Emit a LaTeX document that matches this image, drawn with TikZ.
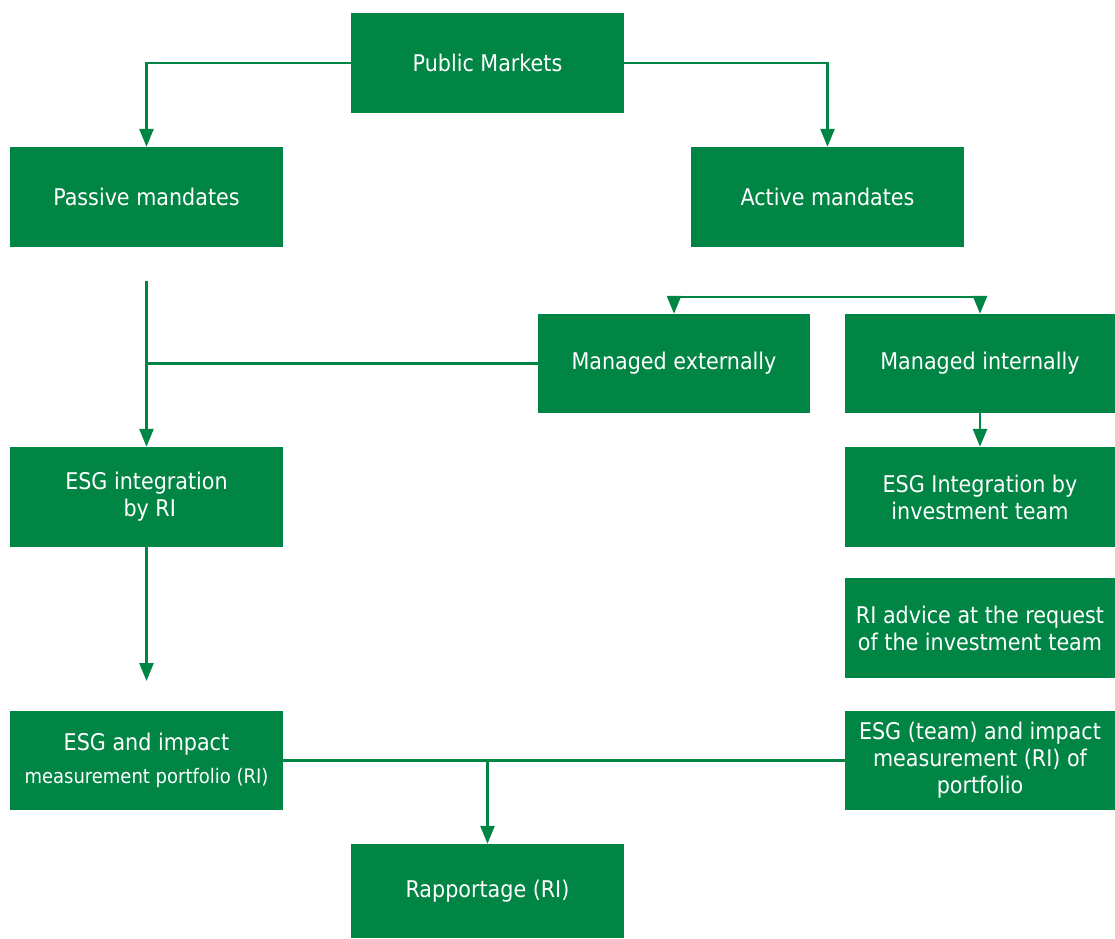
\documentclass[tikz,border=0pt]{standalone}
\usepackage{fontspec}
\setmainfont{DejaVu Sans Condensed}
\usetikzlibrary{arrows.meta}
\definecolor{bgreen}{RGB}{0,133,69}
\tikzset{
  box/.style={fill=bgreen, draw=none, text=white, align=center, inner sep=0pt,
    minimum width=273pt, minimum height=100pt, font=\fontsize{23}{27}\selectfont},
  conn/.style={draw=bgreen, line width=2.6pt},
  arr/.style={conn, -{Triangle[width=14pt,length=18pt]}}
}
\begin{document}
\begin{tikzpicture}[x=1pt,y=-1pt]
\useasboundingbox (0,0) rectangle (1115,938);
\node[box] (pm) at (487.5,63) {Public Markets};
\node[box] (pass) at (146.5,197) {Passive mandates};
\node[box] (act) at (827.5,197) {Active mandates};
\node[box, minimum width=272pt, minimum height=99pt] (ext) at (674,363.5) {Managed externally};
\node[box, minimum width=270pt, minimum height=99pt] (int) at (980,363.5) {Managed internally};
\node[box] (esgri) at (146.5,497) {ESG integration\\ \ by RI};
\node[box, minimum width=270pt] (esgteam) at (980,497) {ESG Integration by\\investment team};
\node[box, minimum width=270pt] (advice) at (980,628) {RI advice at the request\\of the investment team};
\node[box, minimum height=99pt] (meas) at (146.5,760.5) {ESG and impact\\[6pt]{\fontsize{20}{24}\selectfont measurement portfolio (RI)}};
\node[box, minimum width=270pt, minimum height=99pt] (meas2) at (980,760.5) {ESG (team) and impact\\measurement (RI) of\\portfolio};
\node[box, minimum height=94pt] (rap) at (487.5,891) {Rapportage (RI)};

\coordinate (split) at (827,297);
\coordinate (passdown) at (146.5,281);
\coordinate (esgend) at (146.5,681);
\coordinate (rapjoin) at (487.5,760.5);

\draw[arr] (pm.west) -| (pass.north);
\draw[arr] (pm.east) -| (act.north);
\draw[arr] (split) -| (ext.north);
\draw[arr] (split) -| (int.north);
\draw[arr] (passdown) -- (esgri.north);
\draw[conn] (ext.west) -- (ext.west -| passdown);
\draw[arr] (int.south) -- (esgteam.north);
\draw[arr] (esgri.south) -- (esgend);
\draw[conn] (meas.east) -- (meas2.west);
\draw[arr] (rapjoin) -- (rap.north);
\end{tikzpicture}
\end{document}
